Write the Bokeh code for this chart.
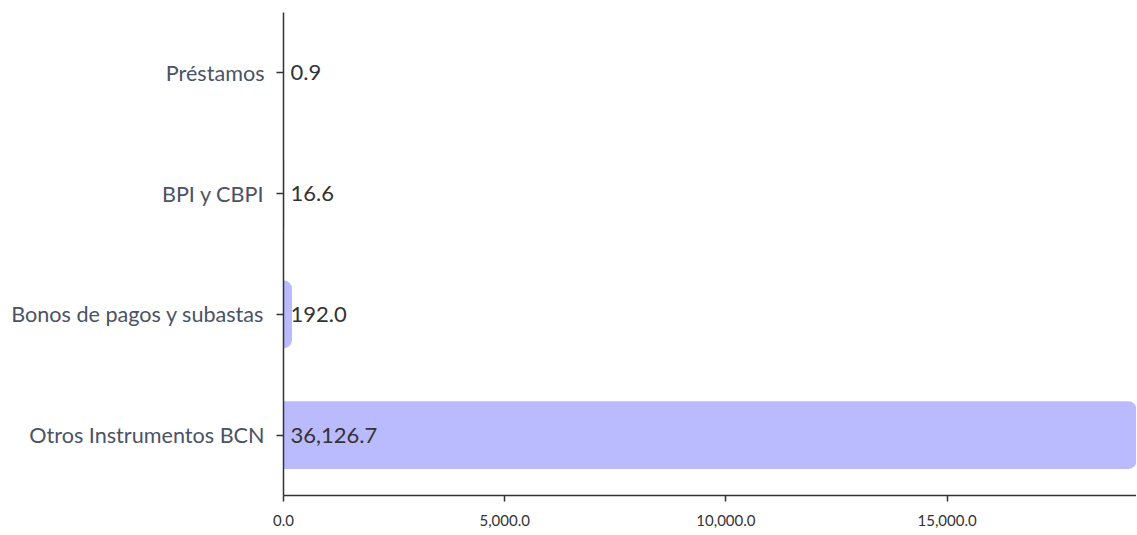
from bokeh.plotting import figure
from bokeh.models import ColumnDataSource, NumeralTickFormatter, FixedTicker, Range1d
from bokeh.core.properties import value
from bokeh.embed import file_html
from bokeh.resources import INLINE

categories = ["Otros Instrumentos BCN", "Bonos de pagos y subastas", "BPI y CBPI", "Préstamos"]
values = [36126.7, 192.0, 16.6, 0.9]
labels = ["{:,.1f}".format(v) for v in values]
x_ticks = [0, 5000, 10000, 15000]

src = ColumnDataSource(dict(cat=categories, val=values, lab=labels, zero=[0] * len(values)))

p = figure(y_range=categories, x_range=Range1d(0, 19280), width=1136, height=530,
           output_backend="svg", toolbar_location=None,
           min_border_left=283, min_border_right=0, min_border_top=12, min_border_bottom=35)
p.outline_line_color = None
p.xgrid.visible = False
p.ygrid.visible = False
p.y_range.range_padding = 0

p.hbar(y="cat", right="val", left=0, height=0.56, source=src, fill_color="#babbff",
       line_color=None, border_radius=(0, 8, 8, 0))
p.text(x="zero", y="cat", text="lab", source=src, x_offset=7, text_align="left",
       text_baseline="middle", text_font=value("Lato"), text_font_size="22px", text_color="#333333")

p.xaxis.ticker = FixedTicker(ticks=x_ticks)
p.xaxis.formatter = NumeralTickFormatter(format="0,0.0")
p.xaxis.major_label_text_font = "Lato"
p.xaxis.major_label_text_font_size = "15px"
p.xaxis.major_label_text_color = "#333333"
p.xaxis.minor_tick_line_color = None
p.xaxis.major_tick_out = 6
p.xaxis.major_tick_in = 0
p.xaxis.major_label_standoff = 13

p.yaxis.major_label_text_font = "Lato"
p.yaxis.major_label_text_font_size = "21.6px"
p.yaxis.major_label_text_color = "#4a5366"
p.yaxis.major_tick_out = 7
p.yaxis.major_tick_in = 0
p.yaxis.major_label_standoff = 12

for ax in (p.xaxis, p.yaxis):
    ax.axis_line_color = "#333333"
    ax.axis_line_width = 1.5
    ax.major_tick_line_color = "#333333"
    ax.major_tick_line_width = 1.5

open("out.html", "w").write(file_html(p, INLINE))
